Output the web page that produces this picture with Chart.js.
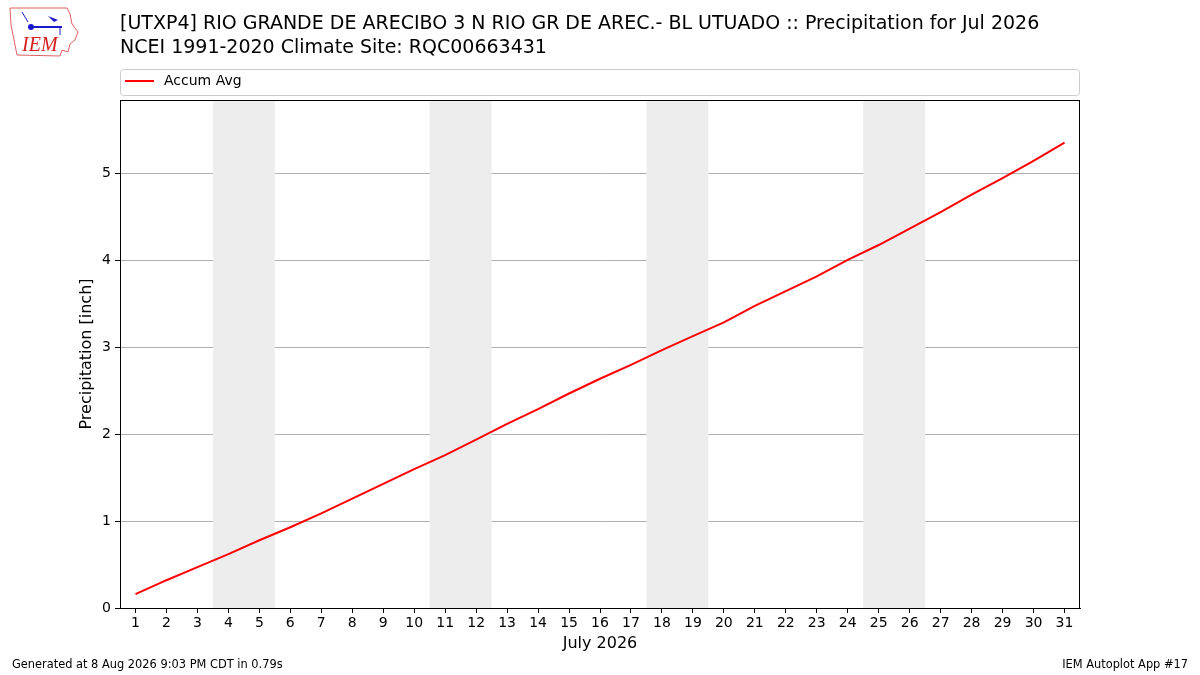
<!DOCTYPE html>
<html>
<head>
<meta charset="utf-8">
<script src="https://cdn.jsdelivr.net/npm/chart.js@4/dist/chart.umd.min.js"></script>
<style>
  body { margin: 0; background: #fff; }
  #wrap { width: 1200px; height: 675px; position: relative; }
</style>
</head>
<body>
<div id="wrap"><canvas id="precipChart"></canvas></div>
<script>
// values
var days = [1,2,3,4,5,6,7,8,9,10,11,12,13,14,15,16,17,18,19,20,21,22,23,24,25,26,27,28,29,30,31];
var accumAvg = [0.16,0.32,0.47,0.62,0.78,0.93,1.09,1.26,1.43,1.60,1.76,1.94,2.12,2.29,2.47,2.64,
                2.80,2.97,3.13,3.29,3.48,3.65,3.82,4.01,4.18,4.37,4.56,4.76,4.95,5.15,5.36];
var weekends = [[4,5],[11,12],[18,19],[25,26]];
var yTicks = [0,1,2,3,4,5];

var titleLines = [
  '[UTXP4] RIO GRANDE DE ARECIBO 3 N RIO GR DE AREC.- BL UTUADO :: Precipitation for Jul 2026',
  'NCEI 1991-2020 Climate Site: RQC00663431'
];
var FONT = 'DejaVu Sans';

// grey weekend bands behind the line
var bandsPlugin = {
  id: 'bands',
  beforeDatasetsDraw: function(chart) {
    var c = chart.ctx, x = chart.scales.x, a = chart.chartArea;
    c.save();
    c.fillStyle = '#ededed';
    weekends.forEach(function(w) {
      var x0 = x.getPixelForValue(w[0] - 0.5), x1 = x.getPixelForValue(w[1] + 0.5);
      c.fillRect(x0, a.top, x1 - x0, a.bottom - a.top);
    });
    c.restore();
  }
};

// title, legend box, frame, axis titles, logo, footer
var decoPlugin = {
  id: 'deco',
  afterDraw: function(chart) {
    var c = chart.ctx, a = chart.chartArea;
    c.save();
    // frame
    c.strokeStyle = '#000'; c.lineWidth = 1;
    c.strokeRect(a.left + 0.5, a.top + 0.5, a.right - a.left - 1, a.bottom - a.top);

    // title
    c.fillStyle = '#000';
    c.font = '19px "' + FONT + '"';
    c.textBaseline = 'middle'; c.textAlign = 'left';
    c.fillText(titleLines[0], 120, 24);
    c.fillText(titleLines[1], 120, 48);

    // axis titles
    c.font = '16px "' + FONT + '"';
    c.textAlign = 'center';
    c.fillText('July 2026', (a.left + a.right) / 2, 644);
    c.save();
    c.translate(87, (a.top + a.bottom) / 2);
    c.rotate(-Math.PI / 2);
    c.fillText('Precipitation [inch]', 0, 0);
    c.restore();

    // legend
    c.textAlign = 'left';
    c.strokeStyle = '#cccccc'; c.lineWidth = 1;
    c.beginPath();
    if (c.roundRect) c.roundRect(120.5, 69.5, 959, 26, 3); else c.rect(120.5, 69.5, 959, 26);
    c.fillStyle = '#fff'; c.fill(); c.stroke();
    c.strokeStyle = 'red'; c.lineWidth = 2;
    c.beginPath(); c.moveTo(125, 81); c.lineTo(154, 81); c.stroke();
    c.fillStyle = '#000'; c.font = '14px "' + FONT + '"';
    c.fillText('Accum Avg', 164, 81);

    // footer
    c.font = '11.4px "' + FONT + '"';
    c.fillText('Generated at 8 Aug 2026 9:03 PM CDT in 0.79s', 12, 665);
    c.textAlign = 'right';
    c.fillText('IEM Autoplot App #17', 1188, 665);

    // rough IEM logo
    c.strokeStyle = '#e06060'; c.lineWidth = 1;
    c.beginPath();
    c.moveTo(10, 8); c.lineTo(67, 8); c.lineTo(70, 14); c.lineTo(72, 24); c.lineTo(78, 32);
    c.lineTo(75, 40); c.lineTo(70, 44); c.lineTo(68, 52); c.lineTo(62, 50); c.lineTo(60, 56);
    c.lineTo(17, 55); c.lineTo(14, 40); c.lineTo(11, 25); c.closePath();
    c.stroke();
    c.strokeStyle = '#1a1acc'; c.fillStyle = '#1a1acc'; c.lineWidth = 2;
    c.beginPath(); c.moveTo(31, 27); c.lineTo(62, 27); c.stroke();
    c.beginPath(); c.arc(31, 27, 3, 0, Math.PI * 2); c.fill();
    c.beginPath(); c.moveTo(48, 16); c.lineTo(58, 20); c.lineTo(54, 22); c.closePath(); c.fill();
    c.lineWidth = 1;
    c.beginPath(); c.moveTo(60, 27); c.lineTo(60, 35); c.moveTo(22, 12); c.lineTo(28, 22); c.stroke();
    c.fillStyle = '#d42020';
    c.font = 'italic 20px "Liberation Serif"';
    c.textAlign = 'left'; c.textBaseline = 'alphabetic';
    c.fillText('IEM', 22, 51);
    c.restore();
  }
};

var ctx = document.getElementById('precipChart').getContext('2d');
var precipChart = new Chart(ctx, {
  type: 'line',
  data: {
    datasets: [{
      label: 'Accum Avg',
      data: days.map(function(d, i) { return { x: d, y: accumAvg[i] }; }),
      borderColor: 'red',
      backgroundColor: 'red',
      borderWidth: 2,
      pointRadius: 0,
      tension: 0,
      fill: false
    }]
  },
  options: {
    responsive: true,
    maintainAspectRatio: false,
    animation: false,
    layout: { padding: { left: 0, top: 100, right: 120, bottom: 0 } },
    plugins: {
      legend: { display: false },
      title: { display: false },
      tooltip: { enabled: false }
    },
    scales: {
      x: {
        type: 'linear',
        min: 0.5,
        max: 31.5,
        afterBuildTicks: function(s) { s.ticks = days.map(function(d) { return { value: d }; }); },
        afterFit: function(s) { s.height = 67; },
        grid: { drawOnChartArea: false, tickColor: '#000', tickLength: 5 },
        border: { color: '#000' },
        ticks: { color: '#000', font: { family: FONT, size: 14 }, autoSkip: false, maxRotation: 0, padding: 2 },
        title: { display: false }
      },
      y: {
        min: 0,
        max: 5.85,
        afterBuildTicks: function(s) { s.ticks = yTicks.map(function(v) { return { value: v }; }); },
        afterFit: function(s) { s.width = 120; },
        grid: { color: '#b0b0b0', tickColor: '#000', tickLength: 5 },
        border: { color: '#000' },
        ticks: { color: '#000', font: { family: FONT, size: 14 }, padding: 4 },
        title: { display: false }
      }
    }
  },
  plugins: [bandsPlugin, decoPlugin]
});
</script>
</body>
</html>
